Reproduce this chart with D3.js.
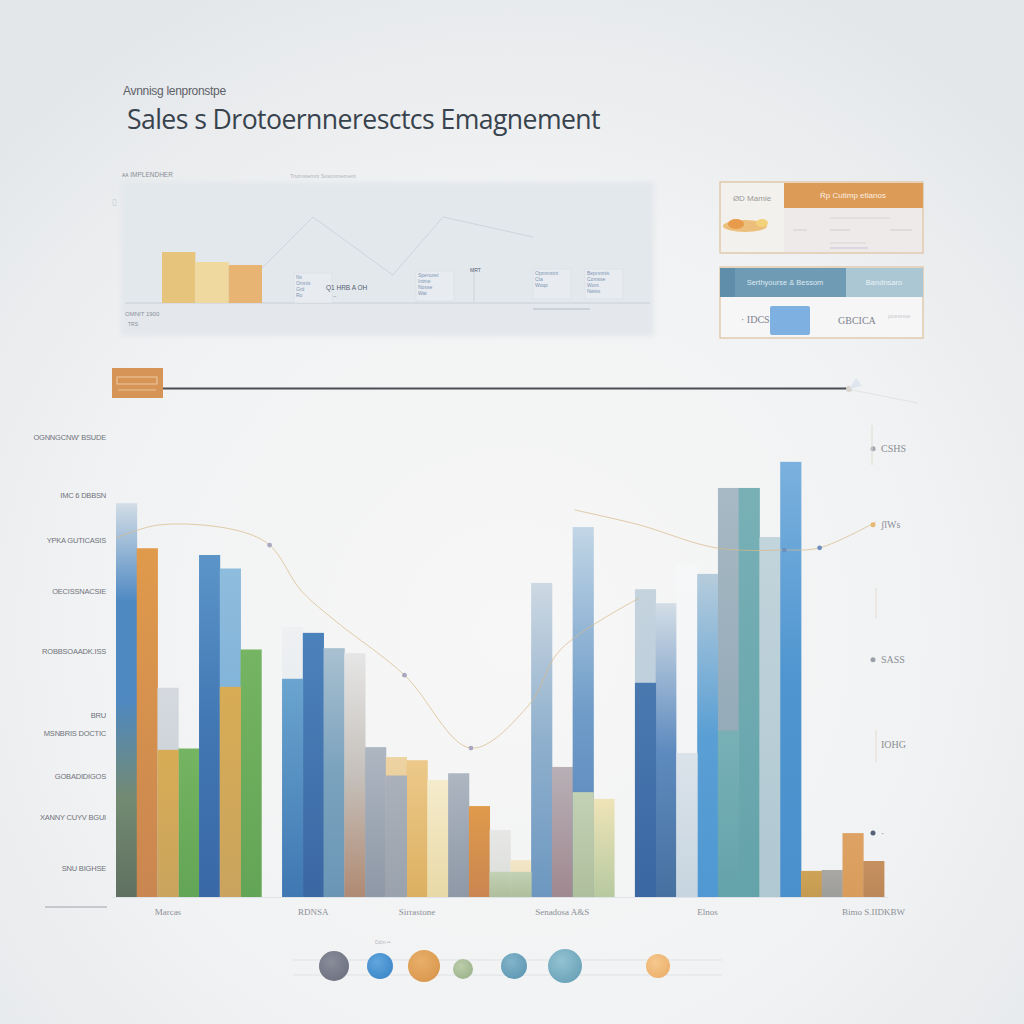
<!DOCTYPE html>
<html><head><meta charset="utf-8">
<script src="https://cdn.jsdelivr.net/npm/d3@7"></script>
<style>html,body{margin:0;padding:0;background:#eceef0;}svg{display:block;}</style>
</head><body>
<svg id="c" width="1024" height="1024"></svg>
<script>
// ---------- DATA ----------
const titleText = "Sales s Drotoernneresctcs Emagnement";
const subtitleText = "Avnnisg lenpronstpe";

const categories = ["Marcas", "RDNSA", "Sirrastone", "Senadosa A&S", "Elnos", "Bimo S.IIDKBW"];
const categoryBar = [2, 8, 13, 20, 26, 34];

const barGroup = [0,0,0,0,0,0,0, 1,1,1,1,1,1,1,1,1,1,1,1,1,1,1,1, 2,2,2,2,2,2,2,2,2,2,2,2];
const barValues = [87.5, 77.5, 46.5, 33, 76, 73, 55,
  60, 58.7, 55.3, 54.2, 33.3, 31.1, 30.4, 26, 27.5, 20.2, 14.9, 8.2,
  69.8, 28.9, 82.2, 21.8,
  68.4, 65.3, 73.8, 71.8, 90.9, 90.9, 80, 96.7, 5.8, 6, 14.2, 8];
const barSeries = ["steelGreen", "orange", "paleGray", "green", "blueDeep", "skyBlue", "green",
  "paleTop", "navy", "steel", "grayBrown", "grayBlue", "tan", "gold", "paleYellow", "grayBlue", "orange", "paleGray2", "paleTan",
  "steelPale", "mauve", "blueFade", "yellowGreen",
  "steelPale2", "blueFade2", "white", "azure", "grayTeal", "teal", "paleTeal", "azure2", "goldDark", "gray", "orange2", "brown"];
const overlayValues = [null, null, 32.7, null, null, 46.7, null,
  48.5, null, null, null, null, 27, null, null, null, null, 5.6, 5.6,
  null, null, 23.3, null,
  47.6, null, 32, null, 37, null, null, null, null, null, null, null];
const overlaySeries = [null, null, "goldSoft", null, null, "goldSoft", null,
  "blueMid", null, null, null, null, "grayLight", null, null, null, null, "sage", "sage",
  null, null, "sage", null,
  "navy2", null, "paleBlue", null, "teal", null, null, null, null, null, null, null];

const yTickValues = [102.2, 89.3, 79.3, 68, 54.7, 40.4, 36.4, 26.9, 17.8, 6.4];
const yTickLabels = ["OGNNGCNW' BSUDE", "IMC 6 DBBSN", "YPKA GUTICASIS", "OECISSNACSIE", "ROBBSOAADK.ISS",
  "BRU", "MSNBRIS DOCTIC", "GOBADIDIGOS", "XANNY CUYV BGUI", "SNU BIGHSE"];
const rightTickValues = [99.6, 82.7, 52.7, 34, 14.2];
const rightTickLabels = ["CSHS", "ʃlWs", "SASS", "IOHG", "·"];

const trendA = [[0,79.8],[2.1,82.7],[5.7,81.6],[7.4,78.2],[8.9,68.2],[10.5,61.6],[13.9,49.3],[17.1,33.1],[19.9,42.7],[21.4,54.9],[25.2,66.4]];
const trendB = [[22.1,86],[25.2,82.7],[28.9,77.6],[32.2,77.1],[33.9,77.6],[36.6,83.3]];
const trendDots = [[7.4,78.2],[13.9,49.3],[17.1,33.1],[32.2,77.1],[33.9,77.6]];

const miniCategories = ["A", "B", "C"];
const miniValues = [51, 41, 38];
const miniLine = [[26.1,35],[35.8,86],[51,28],[60.6,86],[77.7,66]];

const legendKeys = ["gray", "blue", "orange", "sage", "tealBlue", "teal", "peach"];
const legendSizes = [15, 13, 16, 10, 13, 17, 12];

const card1Title = "Ŕp Cutimp etlanos", card1Left = "ØD Mamie";
const card2Left = "Serthyourse & Bessom", card2Right = "Bandnsaro";
const card2Texts = ["· IDCS", "GBCICA", "pcesnue"];

// ---------- STYLES ----------
const pal = {
  steelGreen: ["#d3dde6", "#4f89c2", "#4f89c2", "#738a72", "#5f7060"],
  orange: ["#e09a4c", "#c98650"],
  paleGray: ["#d5d9df", "#c2c8d0"],
  green: ["#74b462", "#63a556"],
  blueDeep: ["#5b95c8", "#4177b3", "#3a68a6"],
  skyBlue: ["#8ebcdd", "#6fa6d3"],
  paleTop: ["#eef0f2", "#dfe6ec"],
  navy: ["#4c82bb", "#3b67a3"],
  steel: ["#a9c0d0", "#7aa2bd", "#6a96b6"],
  grayBrown: ["#e6e6e6", "#c5c0bb", "#b08a73"],
  grayBlue: ["#adb6c1", "#8e98a6"],
  tan: ["#edd3a2", "#e6c590"],
  gold: ["#ecc98a", "#dcb061"],
  paleYellow: ["#f5eccc", "#e9d9a7"],
  paleGray2: ["#e7e8e6", "#dadcd8"],
  paleTan: ["#f2e6c8", "#ecdcb5"],
  steelPale: ["#cdd8e2", "#8fb0cd", "#6d97c0"],
  mauve: ["#b8b0b6", "#a08890"],
  blueFade: ["#c2d6e6", "#6f9cc8", "#5381b8"],
  yellowGreen: ["#efe4b8", "#b7c9a0"],
  steelPale2: ["#c4d3de", "#b5c8d6"],
  blueFade2: ["#d3dde6", "#5e8bbf", "#46709f"],
  white: ["#f6f7f8", "#eef1f3"],
  azure: ["#b6ccdc", "#5a9fd4", "#4f98d3"],
  grayTeal: ["#a6b9c4", "#8aa1b0"],
  teal: ["#78b0b6", "#64a3aa"],
  paleTeal: ["#c2d4dc", "#b0c8d2"],
  azure2: ["#7ab1de", "#4f95d0", "#4a90cc"],
  goldDark: ["#cfa458", "#c49a52"],
  gray: ["#a9a8a4", "#9d9d9a"],
  orange2: ["#dea364", "#d89c5c"],
  brown: ["#c6915f", "#bb8758"],
  goldSoft: ["#d8ac55", "#caa45e"],
  blueMid: ["#6aa4cf", "#3f78b2"],
  grayLight: ["#aab1ba", "#9aa2ad"],
  sage: ["#c3d1b4", "#aebf9d"],
  navy2: ["#4a79b0", "#3a66a2"],
  paleBlue: ["#dbe3ea", "#c7d5e0"]
};
const legendColors = {gray: ["#8a8e9b", "#6d7180"], blue: ["#62a6de", "#3d88c8"], orange: ["#e9b069", "#d9974e"],
  sage: ["#bccdac", "#9cb48b"], tealBlue: ["#82b4ca", "#6098b4"], teal: ["#93c3d2", "#6aa2b8"], peach: ["#f5c98e", "#ecb06c"]};

// ---------- DRAW ----------
const svg = d3.select("#c");
const defs = svg.append("defs");

const bg = defs.append("radialGradient").attr("id", "bg").attr("cx", "50%").attr("cy", "62%").attr("r", "70%");
bg.append("stop").attr("offset", "0%").attr("stop-color", "#f7f7f7");
bg.append("stop").attr("offset", "60%").attr("stop-color", "#f1f2f3");
bg.append("stop").attr("offset", "100%").attr("stop-color", "#e4e7ea");
svg.append("rect").attr("width", 1024).attr("height", 1024).attr("fill", "url(#bg)");

function addGrad(id, stops) {
  const g = defs.append("linearGradient").attr("id", id).attr("x1", 0).attr("y1", 0).attr("x2", 0).attr("y2", 1);
  stops.forEach((c, i) => g.append("stop").attr("offset", (i / Math.max(1, stops.length - 1) * 100) + "%").attr("stop-color", c));
}
Object.entries(pal).forEach(([k, v]) => addGrad("g-" + k, v));
Object.entries(legendColors).forEach(([k, v]) => {
  const g = defs.append("radialGradient").attr("id", "l-" + k).attr("cx", "40%").attr("cy", "35%").attr("r", "70%");
  g.append("stop").attr("offset", "0%").attr("stop-color", v[0]);
  g.append("stop").attr("offset", "100%").attr("stop-color", v[1]);
});
defs.append("filter").attr("id", "soft").append("feGaussianBlur").attr("stdDeviation", 0.6);
defs.append("filter").attr("id", "blur2").append("feGaussianBlur").attr("stdDeviation", 2.5);

// Title
svg.append("text").attr("x", 123).attr("y", 95).text(subtitleText)
  .attr("font-family", "Liberation Sans, sans-serif").attr("font-size", 12).attr("fill", "#5d6168").attr("letter-spacing", -0.3);
svg.append("text").attr("x", 127).attr("y", 129).text(titleText)
  .attr("font-family", "Open Sans, sans-serif").attr("font-size", 27.5).attr("fill", "#38434e").attr("letter-spacing", -0.6)
  .attr("textLength", 473).attr("lengthAdjust", "spacingAndGlyphs");

// ---------- Top panel ----------
const panel = {x0: 125, x1: 650, y0: 185, y1: 333, base: 303};
svg.append("rect").attr("x", panel.x0 - 4).attr("y", panel.y0 - 3).attr("width", panel.x1 - panel.x0 + 8).attr("height", panel.y1 - panel.y0 + 6)
  .attr("fill", "#e4e8ec").attr("filter", "url(#blur2)");
svg.append("rect").attr("x", panel.x0).attr("y", panel.y0).attr("width", panel.x1 - panel.x0).attr("height", panel.base - panel.y0)
  .attr("fill", "#e3e8ed");
svg.append("line").attr("x1", panel.x0).attr("x2", panel.x1).attr("y1", panel.base).attr("y2", panel.base).attr("stroke", "#c9ced5");
const px = d3.scaleLinear().domain([0, 100]).range([panel.x0, panel.x1]);
const py = d3.scaleLinear().domain([0, 100]).range([panel.base, panel.base - 100]);
const mx = d3.scaleBand().domain(miniCategories).range([162, 262]).padding(0);
const miniFill = ["#e6c47c", "#efd99f", "#e7b473"];
svg.append("g").selectAll("rect").data(miniValues).join("rect")
  .attr("x", (d, i) => mx(miniCategories[i])).attr("width", mx.bandwidth())
  .attr("y", d => py(d)).attr("height", d => py(0) - py(d)).attr("fill", (d, i) => miniFill[i]);
svg.append("path").datum(miniLine).attr("d", d3.line().x(d => px(d[0])).y(d => py(d[1])))
  .attr("fill", "none").attr("stroke", "#c9ced6").attr("stroke-width", 0.8);
const tiny = (x, y, t, s, c) => svg.append("text").attr("x", x).attr("y", y).text(t)
  .attr("font-family", "Liberation Sans, sans-serif").attr("font-size", s || 6).attr("fill", c || "#8c94a0");
tiny(122, 177, "ᴀᴀ  IMPLENDHER", 6.5, "#8a8f98");
tiny(290, 178, "Trumstemnt Sxsonmement", 5.5, "#b0b5bc");
tiny(125, 316, "OMNIT 1900", 6, "#8a8f98");
tiny(128, 326, "TRS", 5, "#8a8f98");
tiny(112, 205, "▯", 9, "#c8ccd2");
[[296, 279, ["Nx", "Omnis", "Grd", "Ro"]], [418, 277, ["Spenuret", "Intme", "Nosse", "Wat"]], [535, 275, ["Opmmstnt", "Cta", "Woqs"]], [587, 275, ["Bepnnmis", "Comsse", "Wont", "Nwiss"]]]
  .forEach(([x, y, arr]) => {
    svg.append("rect").attr("x", x - 2).attr("y", y - 6).attr("width", 38).attr("height", 30).attr("fill", "#e8ecf0").attr("stroke", "#d4d9df").attr("stroke-width", 0.5);
    arr.forEach((t, i) => tiny(x, y + i * 6, t, 5, "#7d95b3"));
  });
tiny(326, 290, "Q1  HRB  A  OH", 6.5, "#56606d");
tiny(333, 298, "~", 6, "#9aa3ad");
svg.append("line").attr("x1", 474).attr("x2", 474).attr("y1", 271).attr("y2", 302).attr("stroke", "#c4c9cf").attr("stroke-width", 0.7);
tiny(470, 272, "MRT", 5, "#56606d");
svg.append("line").attr("x1", 533).attr("x2", 590).attr("y1", 309).attr("y2", 309).attr("stroke", "#b4bac2").attr("stroke-width", 1.2);

// ---------- Right cards ----------
const c1 = svg.append("g");
c1.append("rect").attr("x", 720).attr("y", 182).attr("width", 203).attr("height", 71).attr("fill", "#f3f1ee").attr("stroke", "#ddc09c").attr("stroke-width", 1.2);
c1.append("rect").attr("x", 784).attr("y", 183).attr("width", 139).attr("height", 25).attr("fill", "#dc9b57");
c1.append("text").attr("x", 853).attr("y", 198).attr("text-anchor", "middle").text(card1Title)
  .attr("font-family", "Liberation Sans, sans-serif").attr("font-size", 8).attr("fill", "#fbeee0");
c1.append("text").attr("x", 752).attr("y", 201).attr("text-anchor", "middle").text(card1Left)
  .attr("font-family", "Liberation Sans, sans-serif").attr("font-size", 8).attr("fill", "#9b9a98");
c1.append("rect").attr("x", 784).attr("y", 208).attr("width", 138).attr("height", 44).attr("fill", "#eeeae9");
c1.append("ellipse").attr("cx", 745).attr("cy", 226).attr("rx", 22).attr("ry", 6).attr("fill", "#ecbf7c").attr("filter", "url(#soft)");
c1.append("ellipse").attr("cx", 736).attr("cy", 224).attr("rx", 8).attr("ry", 5).attr("fill", "#e79b4b");
c1.append("ellipse").attr("cx", 762).attr("cy", 223).attr("rx", 6).attr("ry", 4).attr("fill", "#f2d27a");
[[830, 218, 60], [830, 230, 20], [830, 243, 36], [890, 230, 22], [793, 230, 14]].forEach(([x, y, w]) =>
  c1.append("line").attr("x1", x).attr("x2", x + w).attr("y1", y).attr("y2", y).attr("stroke", "#d7d3d3").attr("stroke-width", 1.2));
c1.append("line").attr("x1", 830).attr("x2", 868).attr("y1", 248).attr("y2", 248).attr("stroke", "#c4c4d9").attr("stroke-width", 1.2);

const c2 = svg.append("g");
c2.append("rect").attr("x", 720).attr("y", 267).attr("width", 203).attr("height", 71).attr("fill", "#f6f6f6").attr("stroke", "#ddc09c").attr("stroke-width", 1.2);
c2.append("rect").attr("x", 720).attr("y", 268).attr("width", 126).attr("height", 29).attr("fill", "#6f9bb5");
c2.append("rect").attr("x", 720).attr("y", 268).attr("width", 15).attr("height", 29).attr("fill", "#5f8eaa");
c2.append("rect").attr("x", 846).attr("y", 268).attr("width", 77).attr("height", 29).attr("fill", "#abc7d4");
c2.append("text").attr("x", 785).attr("y", 285).attr("text-anchor", "middle").text(card2Left)
  .attr("font-family", "Liberation Sans, sans-serif").attr("font-size", 7.5).attr("fill", "#dde9ef");
c2.append("text").attr("x", 884).attr("y", 285).attr("text-anchor", "middle").text(card2Right)
  .attr("font-family", "Liberation Sans, sans-serif").attr("font-size", 7.5).attr("fill", "#eaf2f5");
c2.append("rect").attr("x", 770).attr("y", 306).attr("width", 40).attr("height", 29).attr("rx", 2).attr("fill", "#7eb0e2");
c2.append("text").attr("x", 741).attr("y", 323).text(card2Texts[0]).attr("font-family", "Liberation Serif, serif").attr("font-size", 10).attr("fill", "#7e8290");
c2.append("text").attr("x", 838).attr("y", 324).text(card2Texts[1]).attr("font-family", "Liberation Serif, serif").attr("font-size", 10).attr("fill", "#7e8290");
c2.append("text").attr("x", 888).attr("y", 318).text(card2Texts[2]).attr("font-family", "Liberation Sans, sans-serif").attr("font-size", 6).attr("fill", "#c8cace");

// ---------- Divider ----------
svg.append("rect").attr("x", 112).attr("y", 368).attr("width", 51).attr("height", 30).attr("fill", "#d69557");
svg.append("rect").attr("x", 117).attr("y", 377).attr("width", 40).attr("height", 7).attr("fill", "none").attr("stroke", "#f4d7b4").attr("stroke-width", 0.8);
svg.append("line").attr("x1", 118).attr("x2", 156).attr("y1", 390).attr("y2", 390).attr("stroke", "#f0cfa8").attr("stroke-width", 0.8);
svg.append("line").attr("x1", 163).attr("x2", 848).attr("y1", 388.5).attr("y2", 388.5).attr("stroke", "#4a4d55").attr("stroke-width", 1.8);
svg.append("circle").attr("cx", 849).attr("cy", 389).attr("r", 3).attr("fill", "#d9d3cd");
svg.append("path").attr("d", "M849,389 L856,378 L862,386 Z").attr("fill", "#dfe6ee");
svg.append("line").attr("x1", 852).attr("x2", 918).attr("y1", 390).attr("y2", 403).attr("stroke", "#e0e4e8").attr("stroke-width", 1);

// ---------- Main bar chart ----------
const slots = [];
barValues.forEach((v, i) => {
  if (i > 0 && barGroup[i] !== barGroup[i - 1]) slots.push("gap" + i);
  slots.push("b" + i);
});
const x = d3.scaleBand().domain(slots).range([116, 884]).padding(0);
const y = d3.scaleLinear().domain([0, 100]).range([897, 447]);
const xLin = d3.scaleLinear().domain([0, slots.length]).range([116, 884]);

const gBars = svg.append("g");
gBars.selectAll("rect.main").data(barValues).join("rect").attr("class", "main")
  .attr("x", (d, i) => x("b" + i)).attr("width", x.bandwidth() + 0.4)
  .attr("y", d => y(d)).attr("height", d => y(0) - y(d))
  .attr("fill", (d, i) => "url(#g-" + barSeries[i] + ")");
const ov = overlayValues.map((v, i) => ({v, i})).filter(d => d.v != null);
gBars.selectAll("rect.ov").data(ov).join("rect").attr("class", "ov")
  .attr("x", d => x("b" + d.i)).attr("width", x.bandwidth() + 0.4)
  .attr("y", d => y(d.v)).attr("height", d => y(0) - y(d.v))
  .attr("fill", d => "url(#g-" + overlaySeries[d.i] + ")");

svg.append("line").attr("x1", 112).attr("x2", 888).attr("y1", 897.5).attr("y2", 897.5).attr("stroke", "#dfe2e6").attr("stroke-width", 1);

// trend lines
const ln = d3.line().curve(d3.curveCatmullRom).x(d => xLin(d[0])).y(d => y(d[1]));
[trendA, trendB].forEach(t => svg.append("path").datum(t).attr("d", ln)
  .attr("fill", "none").attr("stroke", "#d8b988").attr("stroke-width", 0.9).attr("opacity", 0.8));
svg.append("g").selectAll("circle").data(trendDots).join("circle")
  .attr("cx", d => xLin(d[0])).attr("cy", d => y(d[1])).attr("r", 2.4)
  .attr("fill", (d, i) => i < 3 ? "#a9a8c0" : "#6d8fc0");

// y labels
svg.append("g").selectAll("text").data(yTickValues).join("text")
  .attr("x", 106).attr("y", d => y(d) + 3).attr("text-anchor", "end").text((d, i) => yTickLabels[i])
  .attr("font-family", "Liberation Sans, sans-serif").attr("font-size", 7.5).attr("fill", "#6f737b")
  .attr("letter-spacing", -0.2);
svg.append("line").attr("x1", 45).attr("x2", 107).attr("y1", 907).attr("y2", 907).attr("stroke", "#9ea3aa").attr("stroke-width", 1);

// right labels
const rg = svg.append("g").selectAll("g").data(rightTickValues).join("g")
  .attr("transform", d => `translate(873,${y(d)})`);
rg.append("circle").attr("r", 2.5).attr("fill", (d, i) => ["#9fa3ab", "#e8b970", "#9aa0a8", "#ffffff00", "#55627a"][i]);
rg.append("text").attr("x", 8).attr("y", 3.5).text((d, i) => rightTickLabels[i])
  .attr("font-family", "Liberation Serif, serif").attr("font-size", 10).attr("fill", "#8a8e96");
[[876, 588, 618], [876, 730, 762], [872, 425, 465]].forEach(([lx, a, b]) =>
  svg.append("line").attr("x1", lx).attr("x2", lx).attr("y1", a).attr("y2", b).attr("stroke", "#e2dcd2").attr("stroke-width", 1));

// category labels
svg.append("g").selectAll("text").data(categories).join("text")
  .attr("x", (d, i) => x("b" + categoryBar[i]) + x.bandwidth() / 2).attr("y", 915)
  .attr("text-anchor", "middle").text(d => d)
  .attr("font-family", "Liberation Serif, serif").attr("font-size", 9).attr("fill", "#8c9097");

// ---------- Legend ----------
svg.append("line").attr("x1", 293).attr("x2", 722).attr("y1", 960).attr("y2", 960).attr("stroke", "#dfe2e5");
svg.append("line").attr("x1", 293).attr("x2", 722).attr("y1", 975).attr("y2", 975).attr("stroke", "#dfe2e5");
const lx = d3.scalePoint().domain(legendKeys).range([334, 658]);
const legendX = [334, 380, 424, 463, 514, 565, 658];
svg.append("g").selectAll("circle").data(legendKeys).join("circle")
  .attr("cx", (d, i) => legendX[i]).attr("cy", (d, i) => 966 + (legendSizes[i] < 11 ? 3 : 0))
  .attr("r", (d, i) => legendSizes[i]).attr("fill", d => "url(#l-" + d + ")").attr("filter", "url(#soft)");
tiny(375, 944, "Ddm  ••", 5, "#b6bac0");
</script>
</body></html>
